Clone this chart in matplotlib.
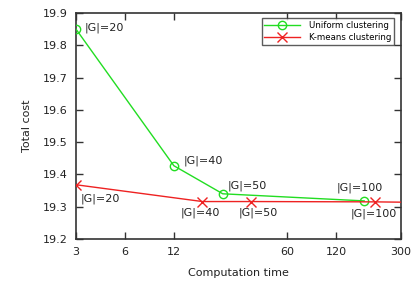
import matplotlib
matplotlib.use("Agg")
import matplotlib.pyplot as plt
from matplotlib.ticker import FixedLocator, FixedFormatter, NullLocator

# Data
uniform_time = [3, 12, 24, 178]
uniform_cost = [19.85, 19.427, 19.34, 19.318]
uniform_labels = ["|G|=20", "|G|=40", "|G|=50", "|G|=100"]

kmeans_time = [3, 18, 36, 209, 450]
kmeans_cost = [19.368, 19.316, 19.316, 19.315, 19.313]
kmeans_labels = ["|G|=20", "|G|=40", "|G|=50", "|G|=100"]

xticks = [3, 6, 12, 60, 120, 300]
yticks = [19.2, 19.3, 19.4, 19.5, 19.6, 19.7, 19.8, 19.9]

green = "#22dd22"
red = "#ee2222"
axc = "#333333"

fig = plt.figure(figsize=(4.16, 2.87), dpi=100)
ax = fig.add_axes([76/416, 1-239/287, (401-76)/416, (239-13)/287])

ax.plot(uniform_time, uniform_cost, color=green, lw=1.0, marker='o', ms=6,
        mfc='none', mec=green, mew=1.0, label="Uniform clustering", zorder=3)
ax.plot(kmeans_time, kmeans_cost, color=red, lw=1.0, marker='x', ms=6.5,
        mec=red, mew=1.0, label="K-means clustering", zorder=4)

ax.set_xscale('log')
ax.set_xlim(3, 300)
ax.set_ylim(19.2, 19.9)
ax.xaxis.set_major_locator(FixedLocator(xticks))
ax.xaxis.set_major_formatter(FixedFormatter([str(t) for t in xticks]))
ax.xaxis.set_minor_locator(NullLocator())
ax.set_yticks(yticks)
ax.set_yticklabels([f"{t:.1f}" for t in yticks])

ax.tick_params(direction='in', length=5, width=1, colors=axc, labelcolor='#222222',
               labelsize=8, top=True, right=True, pad=6)
for s in ax.spines.values():
    s.set_color(axc)
    s.set_linewidth(1.2)

ax.set_xlabel("Computation time", fontsize=8, color='#222222', labelpad=8)
ax.set_ylabel("Total cost", fontsize=8, color='#222222', labelpad=8)

fs = 8
# green annotations (offset in pixels)
g_off = [(9, 1), (10, 5), (5, 8), (-4, 13)]
g_ha = ['left', 'left', 'left', 'center']
for x, y, t, o, ha in zip(uniform_time, uniform_cost, uniform_labels, g_off, g_ha):
    ax.annotate(t, (x, y), xytext=o, textcoords='offset pixels', fontsize=fs,
                ha=ha, va='center', color='#222222')
# red annotations
r_off = [(5, -14), (-2, -11), (7, -11), (-2, -12)]
r_ha = ['left', 'center', 'center', 'center']
for x, y, t, o, ha in zip(kmeans_time, kmeans_cost, kmeans_labels, r_off, r_ha):
    ax.annotate(t, (x, y), xytext=o, textcoords='offset pixels', fontsize=fs,
                ha=ha, va='center', color='#222222')

leg = ax.legend(loc='upper right', bbox_to_anchor=(1 - 7/325, 1 - 5/226),
                fontsize=6.2, frameon=True, fancybox=False,
                edgecolor=axc, borderpad=0.3, labelspacing=0.45, handlelength=4.2,
                handletextpad=1.0, borderaxespad=0)
leg.get_frame().set_linewidth(1.0)

fig.savefig("out.png", dpi=100)
